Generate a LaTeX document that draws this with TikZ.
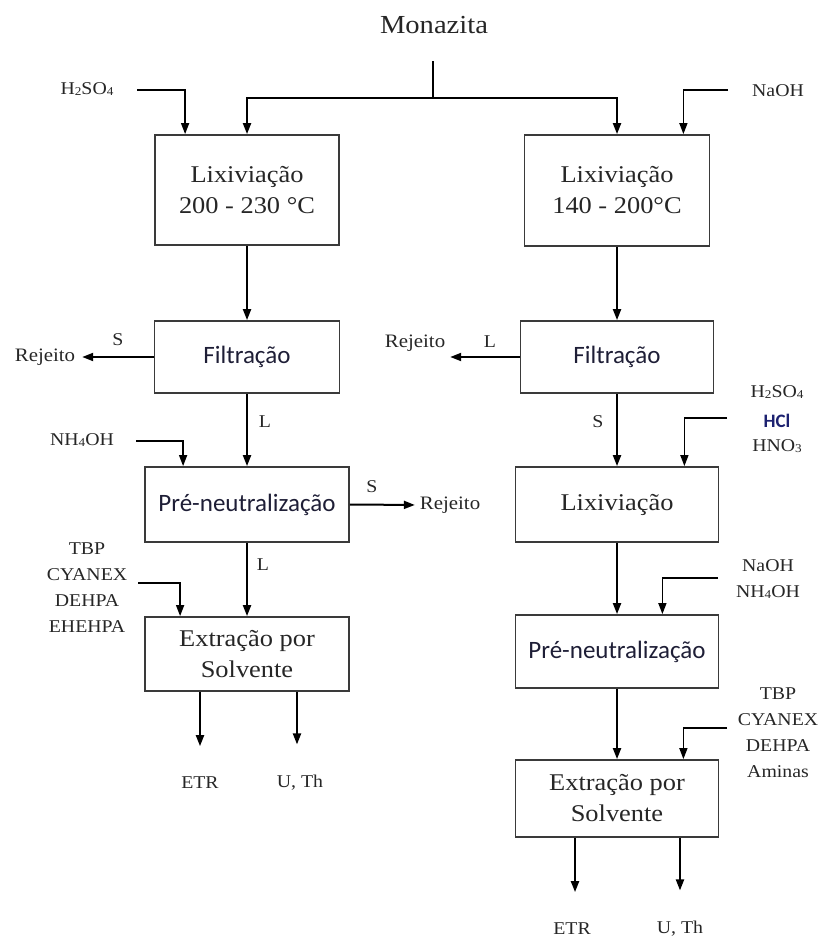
\documentclass[tikz,border=0pt]{standalone}
\usepackage{fontspec}
\setmainfont[FakeStretch=1.1]{Liberation Serif}
\newfontfamily\sansx{Carlito}
\usetikzlibrary{arrows.meta,calc}
\definecolor{ink}{HTML}{262626}
\definecolor{sink}{HTML}{1E1E36}
\definecolor{bord}{HTML}{3A3A3A}
\definecolor{hclc}{HTML}{1C2170}
\newcommand\chsub[1]{\raisebox{-0.15ex}{\fontsize{12}{12}\selectfont #1}}
\begin{document}
\begin{tikzpicture}[x=1pt,y=-1pt,
  box/.style={draw=bord, line width=1.8pt, inner sep=0pt, align=center, text=ink,
              font=\fontsize{24}{31}\selectfont},
  sbox/.style={box, font=\sansx\fontsize{25}{30}\selectfont, text=sink},
  lbl/.style={inner sep=0pt, outer sep=0pt, align=center, text=ink,
              font=\fontsize{18}{26}\selectfont},
  flow/.style={line width=2pt, draw=black, -{Triangle[length=11pt,width=8pt]}},
  feed/.style={line width=1.5pt, draw=black, -{Triangle[length=11pt,width=8pt]}},
  plain/.style={line width=2pt, draw=black}]
\useasboundingbox (0,0) rectangle (818,938);

% title
\node[lbl, font=\fontsize{26}{30}\selectfont, anchor=base] (mon) at (434,33) {Monazita};
\coordinate (montop) at (433,61);
\coordinate (split) at (433,98);

% left column boxes
\node[box,  minimum width=184pt, minimum height=110pt] (L1) at (247,190) {Lixiviação\\200 - 230 °C};
\node[sbox, minimum width=185pt, minimum height=72pt]  (LF) at (247,357) {Filtração};
\node[sbox, minimum width=204pt, minimum height=75pt]  (LP) at (247,504.5) {Pré-neutralização};
\node[box,  minimum width=204pt, minimum height=74pt]  (LE) at (247,654) {Extração por\\Solvente};

% right column boxes
\node[box,  minimum width=185pt, minimum height=111pt] (R1) at (617,190.5) {Lixiviação\\140 - 200°C};
\node[sbox, minimum width=193pt, minimum height=72pt]  (RF) at (617,357) {Filtração};
\node[box,  minimum width=203pt, minimum height=75pt]  (RL) at (617,504.5) {Lixiviação};
\node[sbox, minimum width=203pt, minimum height=73pt]  (RP) at (617,651.5) {Pré-neutralização};
\node[box,  minimum width=203pt, minimum height=77pt]  (RE) at (617,798.5) {Extração por\\Solvente};

% labels left
\node[lbl] (h2so4L) at (87,89) {H\chsub{2}SO\chsub{4}};
\node[lbl, font=\fontsize{19}{22}\selectfont] (rejL1) at (45,357) {Rejeito};
\node[lbl] (sL1) at (118,340) {S};
\node[lbl] (lL1) at (265,422) {L};
\node[lbl] (nh4L) at (82,440) {NH\chsub{4}OH};
\node[lbl] (sL2) at (372,487) {S};
\node[lbl, font=\fontsize{19}{22}\selectfont] (rejL2) at (450,505) {Rejeito};
\node[lbl] (lL2) at (263,565) {L};
\node[lbl] (tbpL) at (87,588) {TBP\\CYANEX\\DEHPA\\EHEHPA};
\node[lbl] (etrL) at (200,783) {ETR};
\node[lbl] (uthL) at (300,783) {U, Th};

% labels right
\node[lbl] (naohL) at (778,91) {NaOH};
\node[lbl, font=\fontsize{19}{22}\selectfont] (rejR) at (415,343) {Rejeito};
\node[lbl] (lR1) at (490,342) {L};
\node[lbl] (sR1) at (598,422) {S};
\node[lbl] (h2so4R) at (777,392) {H\chsub{2}SO\chsub{4}};
\node[lbl, font=\sansx\bfseries\fontsize{19}{22}\selectfont, text=hclc] (hclR) at (777,421) {HCl};
\node[lbl] (hno3R) at (777,446) {HNO\chsub{3}};
\node[lbl] (naohR) at (768,566) {NaOH};
\node[lbl] (nh4R) at (768,592) {NH\chsub{4}OH};
\node[lbl] (tbpR) at (778,733) {TBP\\CYANEX\\DEHPA\\Aminas};
\node[lbl] (etrR) at (572,929) {ETR};
\node[lbl] (uthR) at (680,929) {U, Th};

% feed start points
\coordinate (h2s) at (137,90);
\coordinate (naohs) at (728,90);
\coordinate (nh4s) at (136,441);
\coordinate (tbpls) at (138,583);
\coordinate (acs) at (727,418);
\coordinate (bass) at (718,578);
\coordinate (tbprs) at (727,728);

% top splitter
\draw[plain] (montop) -- (split);
\draw[flow] (split) -| (L1.north);
\draw[flow] (split) -| (R1.north);
\draw[feed] (h2s) -| ($(L1.north west)+(31,0)$);
\draw[feed] (naohs) -| ($(R1.north east)+(-27,0)$);

% left column flows
\draw[flow] (L1.south) -- (L1.south |- LF.north);
\draw[flow, shorten >=7pt] (LF.west) -- (LF.west -| rejL1.east);
\draw[flow] (LF.south) -- (LF.south |- LP.north);
\draw[feed] (nh4s) -| ($(LP.north west)+(39,0)$);
\draw[flow, shorten >=5pt] (LP.east) -- (rejL2.west);
\draw[flow] (LP.south) -- (LP.south |- LE.north);
\draw[feed] (tbpls) -| ($(LE.north west)+(36,0)$);
\draw[flow, shorten >=31pt] (LE.south -| etrL.north) -- (etrL.north);
\draw[flow, shorten >=31pt] ($(LE.south -| uthL.north)+(-3,0)$) -- ($(uthL.north)+(-3,0)$);

% right column flows
\draw[flow] (R1.south) -- (R1.south |- RF.north);
\draw[flow, shorten >=5pt] (RF.west) -- (RF.west -| rejR.east);
\draw[flow] (RF.south) -- (RF.south |- RL.north);
\draw[feed] (acs) -| ($(RL.north east)+(-35,0)$);
\draw[flow] (RL.south) -- (RL.south |- RP.north);
\draw[feed] (bass) -| ($(RP.north east)+(-57,0)$);
\draw[flow] (RP.south) -- (RP.south |- RE.north);
\draw[feed] (tbprs) -| ($(RE.north east)+(-36,0)$);
\draw[flow, shorten >=31pt] ($(RE.south -| etrR.north)+(3,0)$) -- ($(etrR.north)+(3,0)$);
\draw[flow, shorten >=31pt] (RE.south -| uthR.north) -- (uthR.north);
\end{tikzpicture}
\end{document}
